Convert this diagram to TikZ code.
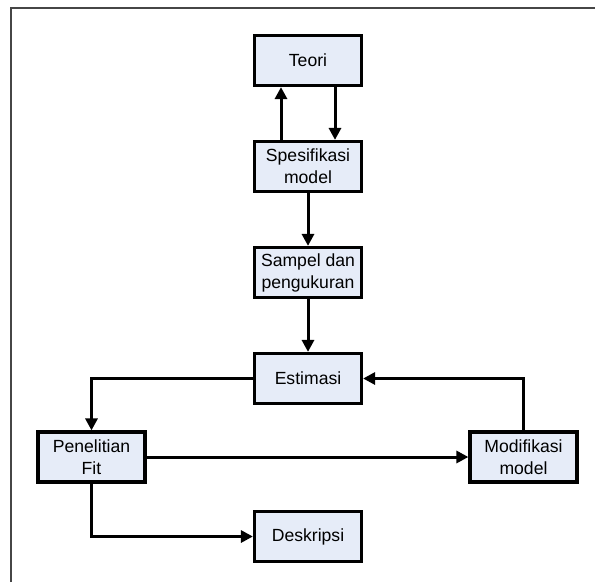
\documentclass[tikz,border=0pt]{standalone}
\usepackage{fontspec}
\setmainfont{Liberation Sans}
\usetikzlibrary{arrows.meta}
\definecolor{boxfill}{RGB}{230,236,248}
\definecolor{framegray}{RGB}{70,70,70}
\tikzset{
  box/.style={draw=black, line width=3.2pt, fill=boxfill, minimum width=107pt, minimum height=50pt,
    inner sep=0pt, align=center, font=\fontsize{17.6}{22}\selectfont},
  conn/.style={line width=3pt, -{Triangle[length=12pt,width=12pt]}}
}
\begin{document}
\begin{tikzpicture}[x=1pt,y=-1pt]
\useasboundingbox (0,0) rectangle (595,582);
\draw[framegray, line width=1.8pt] (11,582) -- (11,8) -- (595,8);
\node[box] (teori) at (308,60.5) {Teori};
\node[box] (spec) at (308,166.5) {Spesifikasi\\model};
\node[box] (sampel) at (308,272.5) {Sampel dan\\pengukuran};
\node[box] (est) at (308,378.5) {Estimasi};
\node[box] (pen) at (91.5,457) {Penelitian\\Fit};
\node[box] (mod) at (523.5,457) {Modifikasi\\model};
\node[box] (desk) at (308,536.5) {Deskripsi};
\draw[conn] ([xshift=-27pt]spec.north) -- ([xshift=-27pt]teori.south);
\draw[conn] ([xshift=27pt]teori.south) -- ([xshift=27pt]spec.north);
\draw[conn] (spec.south) -- (sampel.north);
\draw[conn] (sampel.south) -- (est.north);
\draw[conn] (est.west) -| (pen.north);
\draw[conn] (pen.east) -- (mod.west);
\draw[conn] (mod.north) |- (est.east);
\draw[conn] (pen.south) |- (desk.west);
\end{tikzpicture}
\end{document}
